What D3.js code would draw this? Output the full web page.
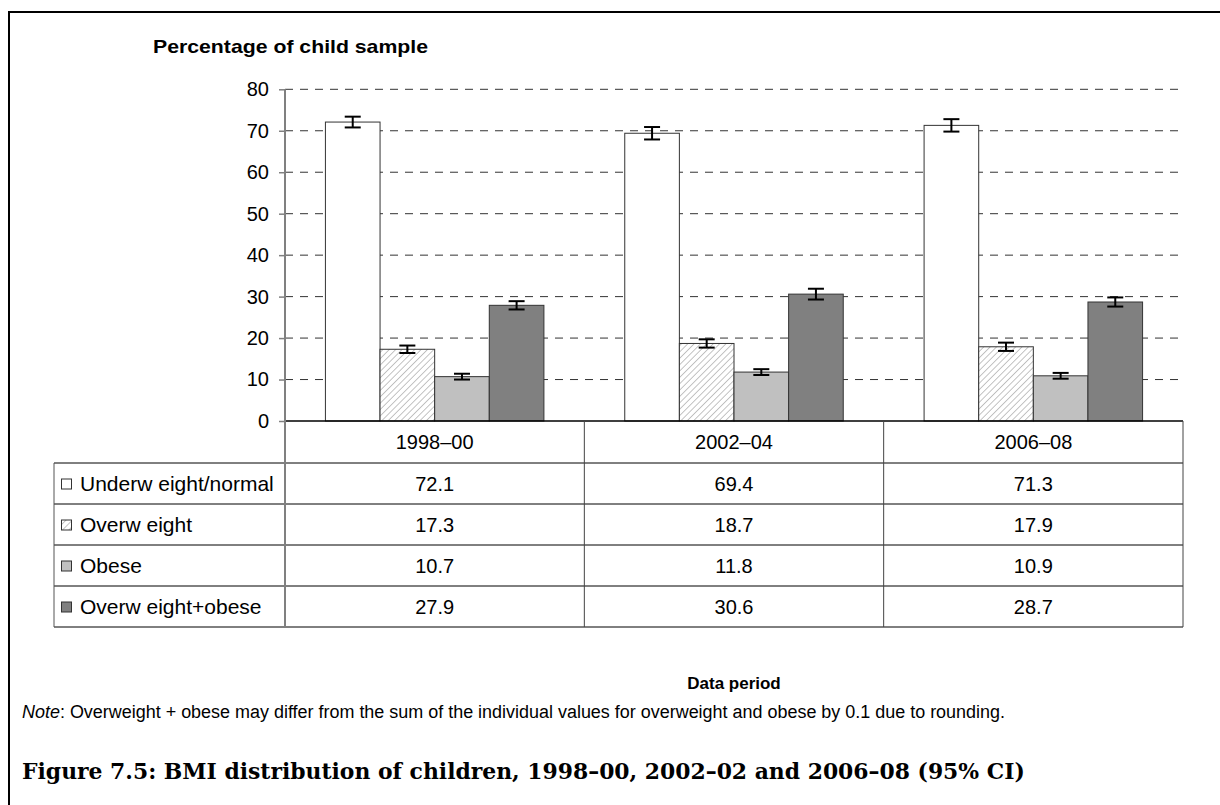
<!DOCTYPE html>
<html>
<head>
<meta charset="utf-8">
<script src="https://cdn.jsdelivr.net/npm/d3@7"></script>
<style>
  html, body { margin: 0; padding: 0; background: #fff; overflow: hidden; }
  svg { display: block; }
  text { fill: #000; }
</style>
</head>
<body>
<svg id="chart" width="1220" height="805"></svg>
<script>
// Data periods (x categories)
const periods = ["1998–00", "2002–04", "2006–08"];
// BMI groups, as labelled in the data table
const groups = ["Underw eight/normal", "Overw eight", "Obese", "Overw eight+obese"];
const groupKeys = ["normal", "overweight", "obese", "owob"];
// Percentages per group, one value per period
const normalVals = [72.1, 69.4, 71.3];
const overweightVals = [17.3, 18.7, 17.9];
const obeseVals = [10.7, 11.8, 10.9];
const owobVals = [27.9, 30.6, 28.7];
// Half-width of the 95% confidence interval per group and period
const normalCI = [1.3, 1.5, 1.5];
const overweightCI = [0.9, 1.0, 1.0];
const obeseCI = [0.7, 0.7, 0.7];
const owobCI = [1.0, 1.3, 1.1];
// Y axis ticks
const yTicks = [0, 10, 20, 30, 40, 50, 60, 70, 80];

const values = [normalVals, overweightVals, obeseVals, owobVals];
const cis = [normalCI, overweightCI, obeseCI, owobCI];

const SANS = "'Liberation Sans', Arial, Helvetica, sans-serif";
const SERIF = "'DejaVu Serif', 'Liberation Serif', serif";

const svg = d3.select("#chart").style("font-family", SANS);

// Pattern for the hatched "overweight" fill
const defs = svg.append("defs");
const pat = defs.append("pattern")
  .attr("id", "hatch").attr("patternUnits", "userSpaceOnUse")
  .attr("width", 4.5).attr("height", 4.5)
  .attr("patternTransform", "rotate(45)");
pat.append("rect").attr("width", 4.5).attr("height", 4.5).attr("fill", "#fff");
pat.append("line").attr("x1", 0).attr("y1", 0).attr("x2", 0).attr("y2", 4.5)
  .attr("stroke", "#b0b0b0").attr("stroke-width", 1.5);

const fills = ["#ffffff", "url(#hatch)", "#c0c0c0", "#808080"];

// Outer frame: only the left and top edges lie inside the page
svg.append("path").attr("d", "M9,805 V12 H1220")
  .attr("fill", "none").attr("stroke", "#000").attr("stroke-width", 2);

const plotLeft = 285, plotRight = 1183, plotTop = 89.3, base = 421;
const tableLeft = 54;
const rowH = 41;
const catRowBottom = 463;

const y = d3.scaleLinear().domain([0, 80]).range([base, plotTop]);
const x0 = d3.scaleBand().domain(periods).range([plotLeft, plotRight]).paddingInner(0).paddingOuter(0);
const x1 = d3.scaleBand().domain(groupKeys).range([0, x0.bandwidth()]).paddingInner(0).paddingOuter(0.74);

// Dashed gridlines
svg.append("g").selectAll("line").data(yTicks.filter(d => d > 0)).join("line")
  .attr("x1", plotLeft).attr("x2", plotRight)
  .attr("y1", d => y(d)).attr("y2", d => y(d))
  .attr("stroke", "#333").attr("stroke-width", 1)
  .attr("stroke-dasharray", "8,7");

// Y axis
const yAxis = d3.axisLeft(y).tickValues(yTicks).tickSize(6).tickPadding(10);
const ya = svg.append("g").attr("transform", `translate(${plotLeft},0)`).call(yAxis);
ya.select(".domain").remove();
ya.selectAll(".tick line").attr("stroke", "#808080").attr("stroke-width", 1.5);
ya.selectAll(".tick text").style("font-size", "20px").style("font-family", SANS).attr("fill", "#000");

// Bars
const barData = [];
periods.forEach((p, i) => {
  groupKeys.forEach((g, j) => {
    barData.push({ p, g, j, v: values[j][i], ci: cis[j][i] });
  });
});

svg.append("g").selectAll("rect").data(barData).join("rect")
  .attr("x", d => x0(d.p) + x1(d.g))
  .attr("y", d => y(d.v))
  .attr("width", x1.bandwidth())
  .attr("height", d => base - y(d.v))
  .attr("fill", d => fills[d.j])
  .attr("stroke", "#333").attr("stroke-width", 1);

// Error bars (95% CI)
const eb = svg.append("g").attr("stroke", "#000").attr("stroke-width", 2);
barData.forEach(d => {
  const cx = x0(d.p) + x1(d.g) + x1.bandwidth() / 2;
  const y1 = y(d.v + d.ci), y2 = y(d.v - d.ci);
  eb.append("line").attr("x1", cx).attr("x2", cx).attr("y1", y1).attr("y2", y2);
  eb.append("line").attr("x1", cx - 8).attr("x2", cx + 8).attr("y1", y1).attr("y2", y1);
  eb.append("line").attr("x1", cx - 8).attr("x2", cx + 8).attr("y1", y2).attr("y2", y2);
});

// Data table
const tableBottom = catRowBottom + rowH * groups.length;
const tbl = svg.append("g");
// horizontal rules
tbl.append("line").attr("x1", plotLeft).attr("x2", plotRight).attr("y1", base).attr("y2", base)
  .attr("stroke", "#000").attr("stroke-width", 1.5);
d3.range(groups.length + 1).forEach(i => {
  tbl.append("line").attr("x1", tableLeft).attr("x2", plotRight)
    .attr("y1", catRowBottom + i * rowH).attr("y2", catRowBottom + i * rowH)
    .attr("stroke", "#000").attr("stroke-width", 1);
});
// vertical rules
tbl.append("line").attr("x1", tableLeft).attr("x2", tableLeft).attr("y1", catRowBottom).attr("y2", tableBottom)
  .attr("stroke", "#555").attr("stroke-width", 1);
periods.forEach(p => {
  const xr = x0(p) + x0.bandwidth();
  tbl.append("line").attr("x1", xr).attr("x2", xr).attr("y1", base).attr("y2", tableBottom)
    .attr("stroke", "#444").attr("stroke-width", 1);
});
// axis line runs down through the table
svg.append("line").attr("x1", plotLeft).attr("x2", plotLeft).attr("y1", plotTop).attr("y2", tableBottom)
  .attr("stroke", "#808080").attr("stroke-width", 2);

// category labels
tbl.selectAll("text.cat").data(periods).join("text").attr("class", "cat")
  .attr("x", d => x0(d) + x0.bandwidth() / 2).attr("y", (base + catRowBottom) / 2 + 7)
  .attr("text-anchor", "middle").style("font-size", "20px").text(d => d);

// legend rows with values
groups.forEach((g, j) => {
  const cy = catRowBottom + j * rowH + rowH / 2;
  tbl.append("rect").attr("x", 61.5).attr("y", cy - 4.5).attr("width", 10).attr("height", 10)
    .attr("fill", fills[j]).attr("stroke", "#333").attr("stroke-width", 1);
  tbl.append("text").attr("x", 80).attr("y", cy + 7).style("font-size", "21px").text(g);
  periods.forEach((p, i) => {
    tbl.append("text").attr("x", x0(p) + x0.bandwidth() / 2).attr("y", cy + 7)
      .attr("text-anchor", "middle").style("font-size", "20px").text(values[j][i].toFixed(1));
  });
});

// axis titles
svg.append("text").attr("x", 153).attr("y", 53)
  .style("font-size", "19px").style("font-weight", "bold")
  .attr("textLength", 275).attr("lengthAdjust", "spacingAndGlyphs")
  .text("Percentage of child sample");
svg.append("text").attr("x", (plotLeft + plotRight) / 2).attr("y", 689).attr("text-anchor", "middle")
  .style("font-size", "17px").style("font-weight", "bold").text("Data period");

// footnote
const note = svg.append("text").attr("x", 22).attr("y", 718).style("font-size", "18px")
  .attr("textLength", 983).attr("lengthAdjust", "spacingAndGlyphs");
note.append("tspan").style("font-style", "italic").text("Note");
note.append("tspan").text(": Overweight + obese may differ from the sum of the individual values for overweight and obese by 0.1 due to rounding.");

// figure caption, sized to span the caption width
const cap = svg.append("text").attr("x", 22).attr("y", 779)
  .style("font-family", SERIF).style("font-size", "22px").style("font-weight", "bold")
  .text("Figure 7.5: BMI distribution of children, 1998–00, 2002–02 and 2006–08 (95% CI)");
const capW = cap.node().getComputedTextLength();
cap.style("font-size", (22 * 1003 / capW).toFixed(2) + "px");
</script>
</body>
</html>
